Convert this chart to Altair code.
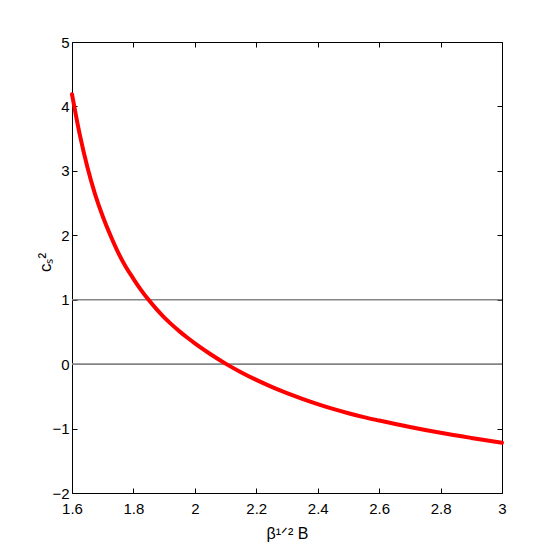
import altair as alt
import pandas as pd

# data
X_VALS = [1.60, 1.625, 1.65, 1.675, 1.70, 1.725, 1.75, 1.775, 1.80, 1.825, 1.85, 1.875,
          1.90, 1.925, 1.95, 1.975, 2.00, 2.05, 2.10, 2.15, 2.20, 2.25, 2.30, 2.35,
          2.40, 2.45, 2.50, 2.55, 2.60, 2.70, 2.80, 2.90, 3.00]
C_VALS = [4.19, 3.57, 3.06, 2.64, 2.295, 2.00, 1.735, 1.51, 1.325, 1.15, 0.995, 0.854,
          0.727, 0.613, 0.509, 0.413, 0.323, 0.158, 0.008, -0.125, -0.245, -0.353, -0.45, -0.538,
          -0.62, -0.695, -0.762, -0.822, -0.875, -0.975, -1.065, -1.145, -1.22]
REF_LEVELS = [0, 1]
X_DOMAIN = [1.6, 3.0]
Y_DOMAIN = [-2, 5]
X_TICKS = [1.6, 1.8, 2.0, 2.2, 2.4, 2.6, 2.8, 3.0]
Y_TICKS = [-2, -1, 0, 1, 2, 3, 4, 5]

curve = pd.DataFrame({"x": X_VALS, "c": C_VALS})
refs = pd.DataFrame({"level": REF_LEVELS,
                     "x0": [X_DOMAIN[0]] * len(REF_LEVELS),
                     "x1": [X_DOMAIN[1]] * len(REF_LEVELS)})

FONT = "Liberation Sans Narrow, Liberation Sans, Arial, sans-serif"

xs = alt.Scale(domain=X_DOMAIN, nice=False, zero=False)
ys = alt.Scale(domain=Y_DOMAIN, nice=False, zero=False)

common = dict(domain=False, grid=False, tickSize=5, tickColor="black",
              tickWidth=1, offset=-5)

rules = alt.Chart(refs).mark_rule(color="#858585", strokeWidth=1.6).encode(
    x=alt.X("x0:Q", scale=xs,
            axis=alt.Axis(orient="bottom", values=X_TICKS, format="~g",
                          labelFont=FONT, labelFontSize=15, labelColor="black",
                          labelPadding=8, labelFlush=False,
                          title="β¹ᐟ² B", titleFont=FONT, titleFontSize=16,
                          titleFontWeight="normal", titleColor="black",
                          titleX=215, titleY=50, titleBaseline="alphabetic",
                          **common)),
    x2="x1:Q",
    y=alt.Y("level:Q", scale=ys,
            axis=alt.Axis(orient="left", values=Y_TICKS, format="~g",
                          labelFont=FONT, labelFontSize=15, labelColor="black",
                          labelPadding=3, labelFlush=False,
                          title="cₛ²", titleFont=FONT, titleFontSize=17,
                          titleFontWeight="normal", titleColor="black",
                          titleX=-32, titleY=220, titleBaseline="middle",
                          titleAlign="center", titleAngle=270,
                          **common)),
)

line = alt.Chart(curve).mark_line(color="#ff0000", strokeWidth=4,
                                  interpolate="monotone", strokeJoin="round",
                                  strokeCap="round").encode(
    x=alt.X("x:Q", scale=xs,
            axis=alt.Axis(orient="top", values=X_TICKS, labels=False, title=None,
                          **common)),
    y=alt.Y("c:Q", scale=ys,
            axis=alt.Axis(orient="right", values=Y_TICKS, labels=False, title=None,
                          **common)),
)

chart = (
    alt.layer(rules, line)
    .resolve_scale(x="independent", y="independent")
    .properties(width=430, height=451,
                padding={"left": 64, "top": 34, "right": 44, "bottom": 58},
                autosize="none", background="white")
    .configure_view(stroke="black", strokeWidth=1)
)

chart.save("out.html", embed_options={"renderer": "svg", "actions": False})
